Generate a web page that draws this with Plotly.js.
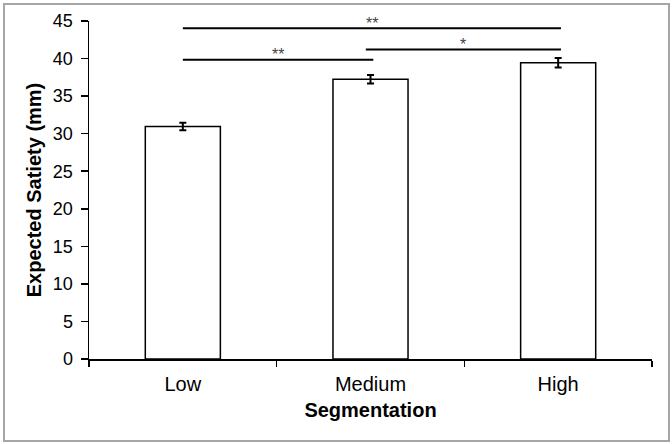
<!DOCTYPE html>
<html>
<head>
<meta charset="utf-8">
<script src="https://cdn.plot.ly/plotly-3.0.1.min.js"></script>
<style>
  body { margin: 0; padding: 0; background: #fff; }
  #wrap { position: relative; width: 672px; height: 444px; }
  #frame { position: absolute; left: 3px; top: 3px; width: 663px; height: 435px;
           border: 2px solid #a6a6a6; pointer-events: none; }
</style>
</head>
<body>
<div id="wrap">
  <div id="chart" style="width:672px;height:444px;"></div>
  <div id="frame"></div>
</div>
<script>
// bar values
const categories = ["Low", "Medium", "High"];
const satietyMeans = [30.95, 37.25, 39.45];
const satietyErrors = [0.5, 0.57, 0.64];

// significance brackets: from / to category index, height, label
const compFrom = [0, 0, 1];
const compTo = [2, 1, 2];
const compLevel = [44.05, 39.85, 41.2];
const compLabel = ["**", "**", "*"];

var trace = {
    x: categories,
    y: satietyMeans,
    type: 'bar',
    width: 0.4,
    marker: { color: '#ffffff', line: { color: '#000000', width: 1.5 } },
    error_y: { type: 'data', array: satietyErrors, visible: true, color: '#000000', thickness: 2, width: 3.5 },
    hoverinfo: 'none'
};

let shapes = [];
let annotations = [];
for (let i = 0; i < compLabel.length; i++) {
    // small overlap where the brackets meet at the Medium bar
    let x0 = compFrom[i] == 1 ? compFrom[i] - 0.025 : compFrom[i];
    let x1 = compTo[i] + 0.015;
    shapes.push({
        type: 'line', xref: 'x', yref: 'y',
        x0: x0, x1: x1, y0: compLevel[i], y1: compLevel[i],
        line: { color: '#000000', width: 2 }
    });
    annotations.push({
        xref: 'x', yref: 'y',
        x: (x0 + x1) / 2, y: compLevel[i],
        text: compLabel[i], showarrow: false,
        yanchor: 'middle', yshift: 5,
        font: { family: 'Liberation Sans, Arial, sans-serif', size: 16, color: '#444444' }
    });
}

var layout = {
    width: 672,
    height: 444,
    margin: { l: 89, r: 20, t: 21, b: 85 },
    paper_bgcolor: '#ffffff',
    plot_bgcolor: '#ffffff',
    showlegend: false,
    font: { family: 'Liberation Sans, Arial, sans-serif', color: '#000000' },
    xaxis: {
        type: 'category',
        range: [-0.5, 2.5],
        showline: true, linecolor: '#000000', linewidth: 1.5,
        ticks: 'outside', tickson: 'boundaries', ticklen: 6, tickwidth: 1.5, tickcolor: '#000000',
        showgrid: false, zeroline: false,
        tickfont: { size: 20 },
        ticklabelstandoff: 6,
        title: { text: '<b>Segmentation</b>', font: { size: 20 }, standoff: 9 }
    },
    yaxis: {
        range: [0, 45],
        dtick: 5,
        showline: true, linecolor: '#000000', linewidth: 1.5,
        ticks: 'outside', ticklen: 7, tickwidth: 1.5, tickcolor: '#000000',
        showgrid: false, zeroline: false,
        tickfont: { size: 18 },
        ticklabelstandoff: 4,
        title: { text: '<b>Expected Satiety (mm)</b>', font: { size: 20 }, standoff: 6 }
    },
    shapes: shapes,
    annotations: annotations
};

Plotly.newPlot('chart', [trace], layout, { staticPlot: true });
</script>
</body>
</html>
